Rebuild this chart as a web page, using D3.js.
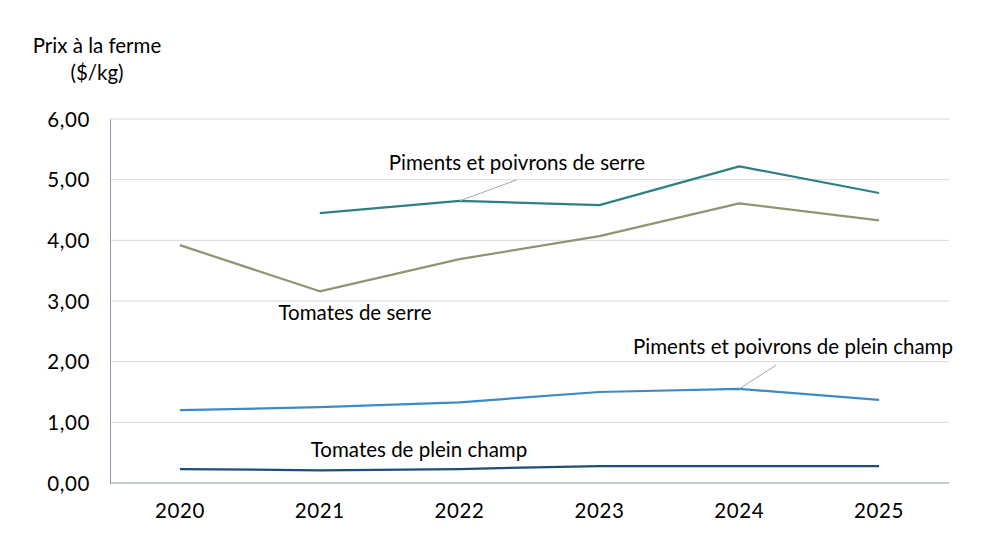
<!DOCTYPE html>
<html><head><meta charset="utf-8">
<script src="https://cdn.jsdelivr.net/npm/d3@7"></script>
<style>body{margin:0;background:#fff}svg{display:block}text{font-family:Lato,"Open Sans",sans-serif;fill:#000}</style>
</head><body>
<svg id="c" width="992" height="558"></svg>
<script>
const years = ["2020","2021","2022","2023","2024","2025"];
const yTicks = [0,1,2,3,4,5,6];
const seriesNames = ["Piments et poivrons de serre","Tomates de serre","Piments et poivrons de plein champ","Tomates de plein champ"];
const pimentsSerre = [null,4.45,4.65,4.58,5.22,4.78];
const tomatesSerre = [3.92,3.16,3.69,4.07,4.61,4.33];
const pimentsChamp = [1.20,1.25,1.33,1.50,1.55,1.37];
const tomatesChamp = [0.23,0.21,0.23,0.28,0.28,0.28];
const colors = ["#2f8080","#8c9671","#3e8ac4","#1f4e79"];

const svg = d3.select("#c");
const L=110,R=949,T=119,B=483;
const FS="20.5px";
const x = d3.scaleBand().domain(years).range([L,R]);
const y = d3.scaleLinear().domain([0,6]).range([B,T]);
const fmt = v => d3.format(".2f")(v).replace(".",",");

// gridlines
svg.append("g").selectAll("line").data(yTicks.slice(1)).join("line")
  .attr("x1",L).attr("x2",R).attr("y1",d=>y(d)).attr("y2",d=>y(d))
  .attr("stroke","#d9d9d9").attr("stroke-width",1);

// y axis
const ya = svg.append("g").attr("transform",`translate(${L},0)`)
  .call(d3.axisLeft(y).tickValues(yTicks).tickFormat(fmt).tickSize(0).tickPadding(20));
ya.select(".domain").attr("stroke","#8497b0");
ya.selectAll("text").style("font-size",FS).style("letter-spacing","0.6px").attr("dy","0.35em");

// x axis
const xa = svg.append("g").attr("transform",`translate(0,${B})`)
  .call(d3.axisBottom(x).tickSize(0).tickPadding(20));
xa.select(".domain").attr("stroke","#8497b0").attr("d",`M${L},0H${R}`);
xa.selectAll("text").style("font-size",FS).style("letter-spacing","0.6px").attr("dy","0.71em");

// title
const t = svg.append("text").attr("x",97).attr("text-anchor","middle").style("font-size",FS);
t.append("tspan").attr("x",97).attr("y",53).text("Prix à la ferme");
t.append("tspan").attr("x",97).attr("y",80).text("($/kg)");

const data = [pimentsSerre,tomatesSerre,pimentsChamp,tomatesChamp];
const line = d3.line().defined(d=>d.v!=null).x(d=>x(d.k)+x.bandwidth()/2).y(d=>y(d.v));
data.forEach((s,i)=>{
  svg.append("path").datum(years.map((k,j)=>({k,v:s[j]})))
    .attr("d",line).attr("fill","none").attr("stroke",colors[i]).attr("stroke-width",2.25)
    .attr("stroke-linejoin","round");
});

// leader lines
const cx = k => x(k)+x.bandwidth()/2;
svg.append("line").attr("x1",cx("2022")).attr("y1",y(pimentsSerre[2])).attr("x2",cx("2022")+57).attr("y2",y(pimentsSerre[2])-21)
  .attr("stroke","#a6a6a6").attr("stroke-width",1);
svg.append("line").attr("x1",cx("2024")).attr("y1",y(pimentsChamp[4])).attr("x2",cx("2024")+37).attr("y2",y(pimentsChamp[4])-24)
  .attr("stroke","#a6a6a6").attr("stroke-width",1);

// labels
const labels = [[517,170],[355,320],[793,354],[419,457]];
labels.forEach((p,i)=>{
  svg.append("text").attr("x",p[0]).attr("y",p[1]).attr("text-anchor","middle").style("font-size",FS).text(seriesNames[i]);
});
</script>
</body></html>
